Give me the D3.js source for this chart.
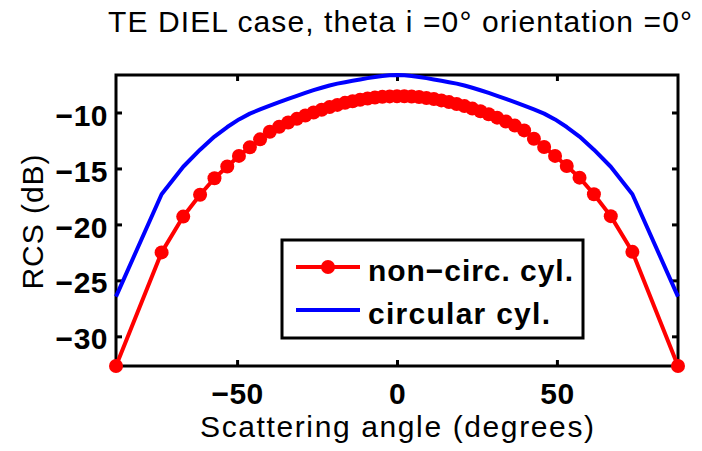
<!DOCTYPE html>
<html>
<head>
<meta charset="utf-8">
<script src="https://cdn.jsdelivr.net/npm/d3@7"></script>
<style>
  html, body { margin: 0; padding: 0; background: #fff; }
  svg { display: block; }
  text { font-family: "Liberation Sans", Arial, Helvetica, sans-serif; fill: #000; }
</style>
</head>
<body>
<svg id="chart" width="702" height="451"></svg>
<script>
// ---------- data ----------
const angles = [-87.86,-73.60,-66.84,-61.57,-57.07,-53.07,-49.42,-46.01,-42.81,-39.76,-36.84,-34.03,-31.31,-28.67,-26.09,-23.56,-21.09,-18.65,-16.25,-13.88,-11.53,-9.20,-6.89,-4.58,-2.29,0,
                2.29,4.58,6.89,9.20,11.53,13.88,16.25,18.65,21.09,23.56,26.09,28.67,31.31,34.03,36.84,39.76,42.81,46.01,49.42,53.07,57.07,61.57,66.84,73.60,87.86];
const nonCirc = [-32.65,-22.50,-19.30,-17.35,-15.87,-14.82,-13.88,-13.10,-12.40,-11.72,-11.27,-10.90,-10.57,-10.27,-10.00,-9.75,-9.52,-9.32,-9.14,-8.99,-8.86,-8.75,-8.66,-8.60,-8.56,-8.55,
                 -8.55,-8.57,-8.62,-8.70,-8.80,-8.92,-9.07,-9.24,-9.43,-9.65,-9.89,-10.16,-10.46,-10.80,-11.17,-11.60,-12.35,-13.08,-13.88,-14.78,-15.82,-17.30,-19.26,-22.45,-32.65];
const circular = [-26.45,-17.30,-14.85,-13.32,-12.15,-11.30,-10.62,-10.10,-9.72,-9.38,-9.07,-8.78,-8.51,-8.25,-8.01,-7.79,-7.59,-7.42,-7.29,-7.17,-7.05,-6.93,-6.82,-6.73,-6.67,-6.65,
                  -6.67,-6.73,-6.82,-6.93,-7.05,-7.17,-7.29,-7.42,-7.59,-7.79,-8.01,-8.25,-8.51,-8.78,-9.07,-9.38,-9.72,-10.10,-10.62,-11.30,-12.15,-13.32,-14.85,-17.30,-26.45];
const xTicks = [-50, 0, 50];
const yTicks = [-30, -25, -20, -15, -10];
const seriesNames = ["non\u2212circ. cyl.", "circular cyl."];
const titleText = "TE DIEL case, theta i =0\u00B0 orientation =0\u00B0";
const xLabel = "Scattering angle (degrees)";
const yLabel = "RCS (dB)";

// ---------- layout ----------
const L = 116, R = 678, T = 75, B = 366;
const svg = d3.select("#chart");
const x = d3.scaleLinear().domain([-87.86, 87.86]).range([L, R]);
const y = d3.scaleLinear().domain([-32.65, -6.65]).range([B, T]);
const fmt = d => d3.format("d")(d);

// axes (ticks inside)
function styleAxis(g) {
  g.select(".domain").remove();
  g.selectAll(".tick line").attr("stroke", "#000").attr("stroke-width", 3);
}
const gx = svg.append("g").attr("transform", `translate(0,${B})`)
  .call(d3.axisBottom(x).tickValues(xTicks).tickSizeInner(-6).tickSizeOuter(0).tickFormat(fmt));
styleAxis(gx);
gx.selectAll(".tick text").attr("y", 38).attr("dy", 0)
  .style("font-size", "30px").style("font-weight", "bold").style("letter-spacing", "0.5px");

const gxt = svg.append("g").attr("transform", `translate(0,${T})`)
  .call(d3.axisTop(x).tickValues(xTicks).tickSizeInner(-6).tickSizeOuter(0).tickFormat(""));
styleAxis(gxt);

const gy = svg.append("g").attr("transform", `translate(${L},0)`)
  .call(d3.axisLeft(y).tickValues(yTicks).tickSizeInner(-6).tickSizeOuter(0).tickFormat(fmt));
styleAxis(gy);
gy.selectAll(".tick text").attr("x", -8).attr("dy", "0.42em")
  .style("font-size", "30px").style("font-weight", "bold").style("letter-spacing", "0.5px");

const gyr = svg.append("g").attr("transform", `translate(${R},0)`)
  .call(d3.axisRight(y).tickValues(yTicks).tickSizeInner(-6).tickSizeOuter(0).tickFormat(""));
styleAxis(gyr);

// box
svg.append("rect").attr("x", L).attr("y", T).attr("width", R - L).attr("height", B - T)
  .attr("fill", "none").attr("stroke", "#000").attr("stroke-width", 3);

// series
const line = d3.line().x((d, i) => x(angles[i])).y(d => y(d));
svg.append("path").datum(circular).attr("d", line)
  .attr("fill", "none").attr("stroke", "#0000ff").attr("stroke-width", 4).attr("stroke-linejoin", "round");
svg.append("path").datum(nonCirc).attr("d", line)
  .attr("fill", "none").attr("stroke", "#ff0000").attr("stroke-width", 4).attr("stroke-linejoin", "round");
svg.append("g").selectAll("circle").data(nonCirc).join("circle")
  .attr("cx", (d, i) => x(angles[i])).attr("cy", d => y(d)).attr("r", 7).attr("fill", "#ff0000");

// title & labels
svg.append("text").attr("x", 400).attr("y", 32).attr("text-anchor", "middle")
  .attr("textLength", 584).attr("lengthAdjust", "spacing")
  .style("font-size", "30px").text(titleText);
svg.append("text").attr("x", 397).attr("y", 437).attr("text-anchor", "middle")
  .attr("textLength", 394).attr("lengthAdjust", "spacing")
  .style("font-size", "30px").text(xLabel);
svg.append("text").attr("transform", "translate(43,222) rotate(-90)").attr("text-anchor", "middle")
  .attr("textLength", 135).attr("lengthAdjust", "spacing")
  .style("font-size", "30px").text(yLabel);

// legend
const lg = svg.append("g");
lg.append("rect").attr("x", 282).attr("y", 240).attr("width", 301).attr("height", 98)
  .attr("fill", "#fff").attr("stroke", "#000").attr("stroke-width", 3);
const legendRows = [
  { name: seriesNames[0], color: "#ff0000", marker: true, cy: 267, len: 205 },
  { name: seriesNames[1], color: "#0000ff", marker: false, cy: 310, len: 182 }
];
legendRows.forEach(r => {
  lg.append("line").attr("x1", 296).attr("x2", 360).attr("y1", r.cy).attr("y2", r.cy)
    .attr("stroke", r.color).attr("stroke-width", 4);
  if (r.marker) lg.append("circle").attr("cx", 328).attr("cy", r.cy).attr("r", 7).attr("fill", r.color);
  lg.append("text").attr("x", 368).attr("y", r.cy + 14)
    .attr("textLength", r.len).attr("lengthAdjust", "spacing")
    .style("font-size", "30px").style("font-weight", "bold").text(r.name);
});
</script>
</body>
</html>
